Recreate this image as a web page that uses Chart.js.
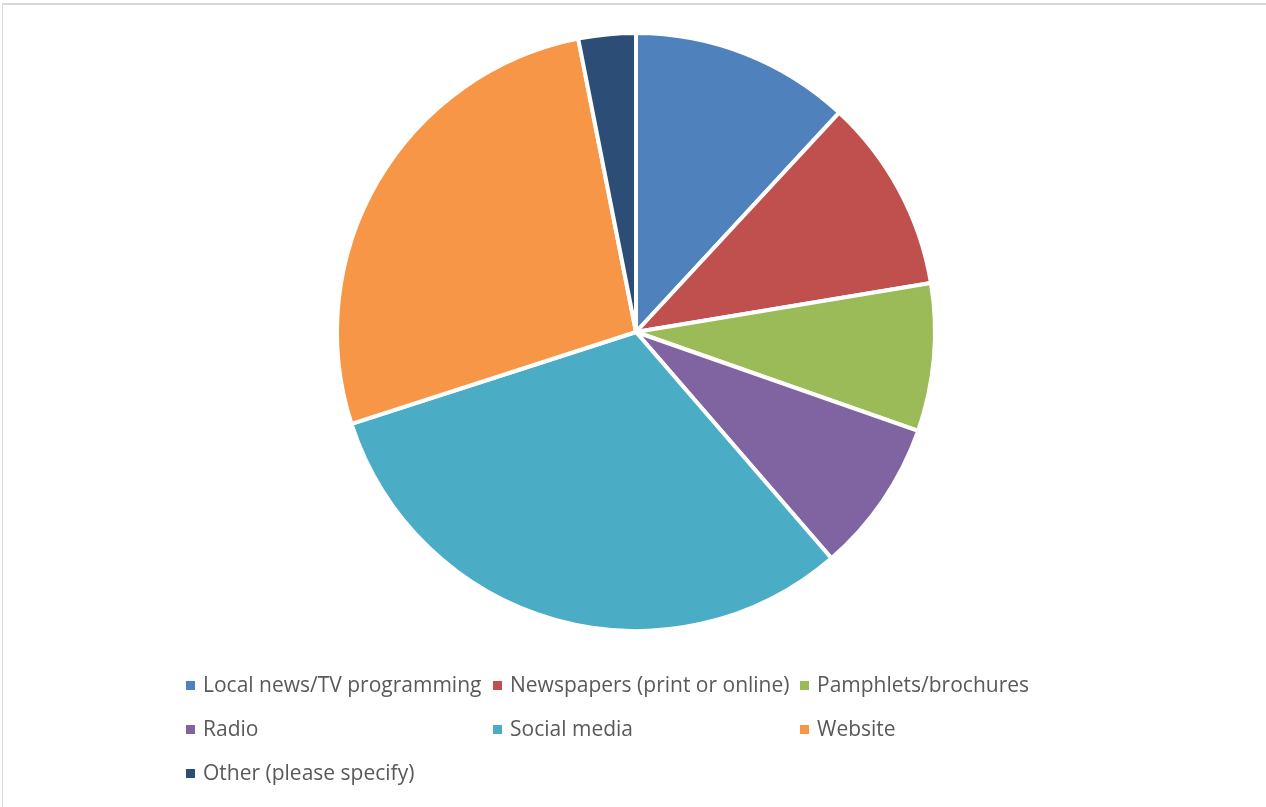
<!DOCTYPE html>
<html>
<head>
<meta charset="utf-8">
<script src="https://cdn.jsdelivr.net/npm/chart.js@4.4.1/dist/chart.umd.min.js"></script>
<style>
  html, body { margin: 0; padding: 0; background: #fff; }
  #wrap { position: relative; width: 1266px; height: 807px; overflow: hidden; }
  #frame {
    position: absolute; left: 2px; top: 3px; width: 1400px; height: 900px;
    border-left: 1px solid #d9d9d9; border-top: 2px solid #d9d9d9;
  }
  #chart { position: absolute; left: 0; top: 0; }
</style>
</head>
<body>
<div id="wrap">
  <div id="frame"></div>
  <canvas id="chart" width="1266" height="807"></canvas>
</div>
<script>
// survey answers, share of responses in percent
const categories = [
  "Local news/TV programming",
  "Newspapers (print or online)",
  "Pamphlets/brochures",
  "Radio",
  "Social media",
  "Website",
  "Other (please specify)"
]
const shares = [11.9, 10.5, 8.0, 8.3, 31.4, 26.9, 3.1]
const colors = ["#4f81bd", "#c0504d", "#9bbb59", "#8064a2", "#4bacc6", "#f79646", "#2c4d75"]

// legend in a fixed 3-column grid below the pie
const gridLegend = {
  id: "gridLegend",
  afterDraw(chart) {
    const ctx = chart.ctx
    const items = chart.legend.legendItems || []
    ctx.save()
    ctx.font = '21px "Open Sans"'
    ctx.textBaseline = "middle"
    items.forEach((item, i) => {
      const col = i % 3
      const row = Math.floor(i / 3)
      const x = 186 + col * 307
      const y = 685 + row * 44
      ctx.fillStyle = item.fillStyle
      ctx.fillRect(x, y - 4, 9, 9)
      ctx.fillStyle = "#595959"
      ctx.fillText(item.text, x + 17, y + 1)
    })
    ctx.restore()
  }
}

new Chart(document.getElementById("chart"), {
  type: "pie",
  data: {
    labels: categories,
    datasets: [{
      data: shares,
      backgroundColor: colors,
      borderColor: "#ffffff",
      borderWidth: 4,
      radius: 299
    }]
  },
  options: {
    responsive: false,
    animation: false,
    layout: { padding: { left: 26, right: 20, top: 20, bottom: 163 } },
    plugins: {
      legend: { display: false },
      tooltip: { enabled: false }
    }
  },
  plugins: [gridLegend]
})
</script>
</body>
</html>
